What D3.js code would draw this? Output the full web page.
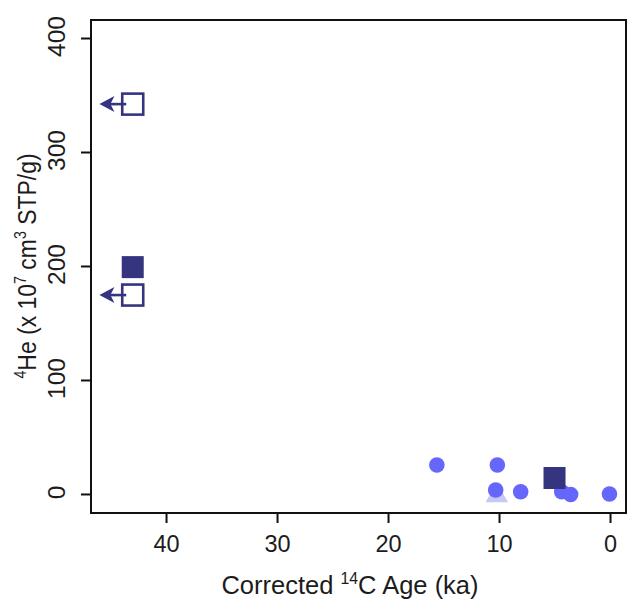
<!DOCTYPE html>
<html>
<head>
<meta charset="utf-8">
<script src="https://cdn.jsdelivr.net/npm/d3@7"></script>
<style>
  body { margin: 0; background: #fff; }
  text { font-family: "Liberation Sans", Arial, sans-serif; fill: #1c1c1c; }
</style>
</head>
<body>
<div id="chart"></div>
<script>
// data
var circleAge = [15.6, 10.15, 10.3, 8.05, 4.35, 3.55, 0.05];
var circleHe  = [25.4, 25.4, 3.5, 2.0, 2.0, -0.5, 0.0];
var triAge = [10.2];
var triHe  = [-1.5];
var filledAge = [43.0, 5.0];
var filledHe  = [199, 14];
var openAge = [43.0, 43.0];
var openHe  = [342, 174.5];
var arrowTo = [46.0, 46.0];   // "older than" arrows
var xTicks = [40, 30, 20, 10, 0];
var yTicks = [0, 100, 200, 300, 400];

var W = 627, H = 604;
var margin = {left: 91, top: 20, right: 1, bottom: 91};
var navy = "#35357f", blue = "#6666fb", lav = "#c8c8f6";
var fs = 23.5, tfs = 25.5;

var svg = d3.select("#chart").append("svg").attr("width", W).attr("height", H);

var x = d3.scaleLinear().domain([46.76, -1.44]).range([margin.left, W - margin.right]);
var y = d3.scaleLinear().domain([-16.7, 415.8]).range([H - margin.bottom, margin.top]);

// frame
svg.append("rect")
   .attr("x", x.range()[0]).attr("y", y.range()[1])
   .attr("width", x.range()[1] - x.range()[0])
   .attr("height", y.range()[0] - y.range()[1])
   .attr("fill", "none").attr("stroke", "#111").attr("stroke-width", 2);

var xAxis = d3.axisBottom(x).tickValues(xTicks).tickSize(10).tickFormat(d3.format("d"));
var gx = svg.append("g").attr("transform", "translate(0," + y.range()[0] + ")").call(xAxis);
gx.select(".domain").remove();
gx.selectAll("line").attr("stroke", "#111").attr("stroke-width", 2);
gx.selectAll("text").attr("font-size", fs).attr("font-family", "Liberation Sans").attr("fill", "#1c1c1c")
  .attr("y", 22).attr("dy", "0.71em");

var yAxis = d3.axisLeft(y).tickValues(yTicks).tickSize(10).tickFormat(d3.format("d"));
var gy = svg.append("g").attr("transform", "translate(" + x.range()[0] + ",0)").call(yAxis);
gy.select(".domain").remove();
gy.selectAll("line").attr("stroke", "#111").attr("stroke-width", 2);
gy.selectAll("text").remove();
gy.selectAll(".tick").append("text")
  .attr("transform", "translate(-26,-2) rotate(-90)")
  .attr("text-anchor", "middle")
  .attr("font-size", fs + 1).attr("font-family", "Liberation Sans").attr("fill", "#1c1c1c")
  .text(function(d){ return d; });

// axis titles
var sup = 0.62, up = 10;
var xt = svg.append("text")
   .attr("x", 350).attr("y", 594)
   .attr("text-anchor", "middle").attr("font-size", tfs);
xt.append("tspan").text("Corrected ");
xt.append("tspan").attr("font-size", tfs * sup).attr("dy", -up).text("14");
xt.append("tspan").attr("dy", up).text("C Age (ka)");

var yt = svg.append("text")
   .attr("transform", "translate(36,266) rotate(-90) scale(0.9,1)")
   .attr("text-anchor", "middle").attr("font-size", tfs);
yt.append("tspan").attr("font-size", tfs * sup).attr("dy", -up).text("4");
yt.append("tspan").attr("dy", up).text("He (x 10");
yt.append("tspan").attr("font-size", tfs * sup).attr("dy", -up).text("7");
yt.append("tspan").attr("dy", up).text(" cm");
yt.append("tspan").attr("font-size", tfs * sup).attr("dy", -up).text("3");
yt.append("tspan").attr("dy", up).text(" STP/g)");

var marks = svg.append("g");

// triangle (behind)
marks.selectAll(".tri").data(triAge).enter().append("path")
   .attr("d", d3.symbol(d3.symbolTriangle, 220))
   .attr("transform", function(d, i){ return "translate(" + x(d) + "," + y(triHe[i]) + ")"; })
   .attr("fill", lav);

// circles
marks.selectAll("circle").data(circleAge).enter().append("circle")
   .attr("cx", function(d){ return x(d); })
   .attr("cy", function(d, i){ return y(circleHe[i]); })
   .attr("r", 7.8).attr("fill", blue);

// filled squares
var sq = 22;
marks.selectAll(".fsq").data(filledAge).enter().append("rect")
   .attr("x", function(d){ return x(d) - sq / 2; })
   .attr("y", function(d, i){ return y(filledHe[i]) - sq / 2; })
   .attr("width", sq).attr("height", sq).attr("fill", navy);

// open squares with arrows
var osq = 21;
marks.selectAll(".osq").data(openAge).enter().append("rect")
   .attr("x", function(d){ return x(d) - osq / 2; })
   .attr("y", function(d, i){ return y(openHe[i]) - osq / 2; })
   .attr("width", osq).attr("height", osq)
   .attr("fill", "none").attr("stroke", navy).attr("stroke-width", 2.6);

marks.selectAll(".shaft").data(openAge).enter().append("line")
   .attr("x1", function(d){ return x(d) - osq / 2 + 4; })
   .attr("x2", function(d, i){ return x(arrowTo[i]) + 8; })
   .attr("y1", function(d, i){ return y(openHe[i]); })
   .attr("y2", function(d, i){ return y(openHe[i]); })
   .attr("stroke", navy).attr("stroke-width", 2.6);

marks.selectAll(".head").data(openAge).enter().append("path")
   .attr("transform", function(d, i){ return "translate(" + x(arrowTo[i]) + "," + y(openHe[i]) + ")"; })
   .attr("d", "M0,0 L15,-8 L11,0 L15,8 Z")
   .attr("fill", navy);
</script>
</body>
</html>
